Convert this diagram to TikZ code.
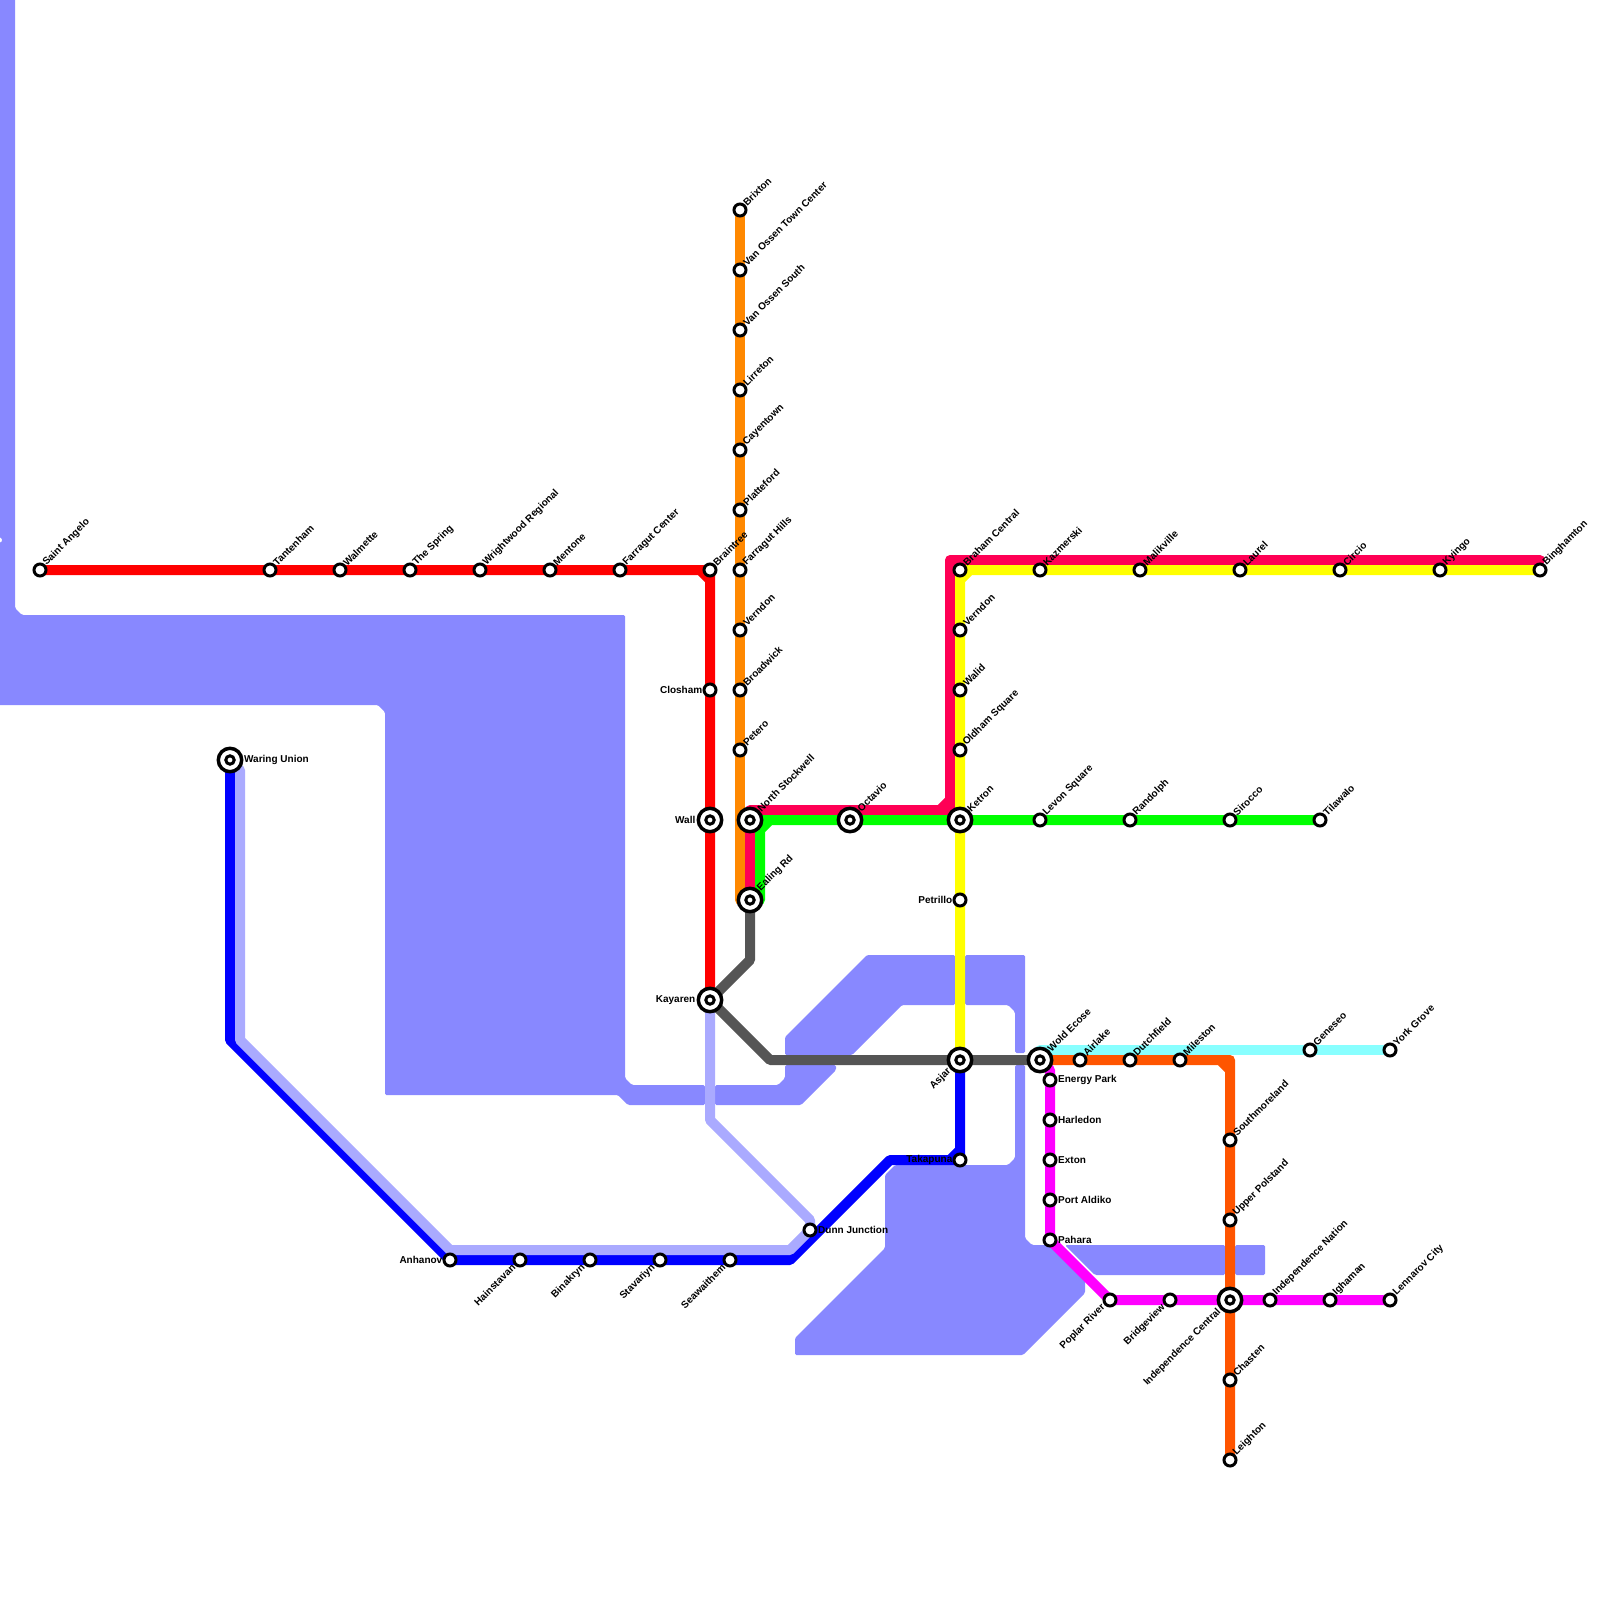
\documentclass[tikz,border=0pt]{standalone}
\usepackage{fontspec}
\setmainfont{Liberation Sans}
\usetikzlibrary{backgrounds}
\definecolor{mapwater}{RGB}{136,136,255}
\definecolor{mapred}{RGB}{255,0,0}
\definecolor{maporange}{RGB}{255,136,0}
\definecolor{maprose}{RGB}{255,0,85}
\definecolor{mapgreen}{RGB}{0,255,0}
\definecolor{mapyellow}{RGB}{255,255,0}
\definecolor{mapgrey}{RGB}{85,85,85}
\definecolor{mapblue}{RGB}{0,0,255}
\definecolor{mappale}{RGB}{170,170,255}
\definecolor{mapcyan}{RGB}{136,255,255}
\definecolor{maprust}{RGB}{255,85,0}
\definecolor{mappink}{RGB}{255,0,255}
\pgfdeclarelayer{waterlayer}
\pgfdeclarelayer{linelayer}
\pgfsetlayers{waterlayer,linelayer,main}
\begin{document}
\begin{tikzpicture}[x=1pt,y=-1pt,
    water/.style={fill=mapwater,rounded corners=1.5pt},
    route/.style={draw=#1,line width=10pt,line cap=round,line join=round},
    stop/.style={circle,draw=black,fill=white,line width=3pt,minimum size=12pt,inner sep=0pt},
    hub/.style={circle,draw=black,fill=white,line width=3.5pt,minimum size=23.4pt,inner sep=0pt,
      path picture={\draw[line width=3pt] (path picture bounding box.center) circle (4.2pt);}},
    stationtext/.style={font=\bfseries\fontsize{10}{12}\selectfont,inner sep=0pt,text=black},
    ne/.style={label={[stationtext,xshift=-0.6pt,yshift=0.6pt,rotate=45,anchor=west,label distance=0pt]45:#1}},
    sw/.style={label={[stationtext,xshift=-1pt,yshift=-0.6pt,rotate=45,anchor=east,label distance=0pt]225:#1}},
    ee/.style={label={[stationtext,anchor=west,label distance=0.5pt]0:#1}},
    ww/.style={label={[stationtext,anchor=east,label distance=0pt]180:#1}},
    hw/.style={label={[stationtext,anchor=east,label distance=1pt]180:#1}}]
  \useasboundingbox (0,0) rectangle (1600,1600);
  % red line
  \node[stop,ne=Saint Angelo] (saintangelo) at (40,570) {};
  \node[stop,ne=Tantenham] (tantenham) at (270,570) {};
  \node[stop,ne=Walmette] (walmette) at (340,570) {};
  \node[stop,ne=The Spring] (thespring) at (410,570) {};
  \node[stop,ne=Wrightwood Regional] (wrightwood) at (480,570) {};
  \node[stop,ne=Mentone] (mentone) at (550,570) {};
  \node[stop,ne=Farragut Center] (farragutcenter) at (620,570) {};
  \node[stop,ne=Braintree] (braintree) at (710,570) {};
  \node[stop,ww=Closham] (closham) at (710,690) {};
  \node[hub,hw=Wall] (wall) at (710,820) {};
  \node[hub,hw=Kayaren] (kayaren) at (710,1000) {};
  % orange line
  \node[stop,ne=Brixton] (brixton) at (740,210) {};
  \node[stop,ne=Van Ossen Town Center] (vanossentown) at (740,270) {};
  \node[stop,ne=Van Ossen South] (vanossensouth) at (740,330) {};
  \node[stop,ne=Lirreton] (lirreton) at (740,390) {};
  \node[stop,ne=Cayentown] (cayentown) at (740,450) {};
  \node[stop,ne=Platteford] (platteford) at (740,510) {};
  \node[stop,ne=Farragut Hills] (farraguthills) at (740,570) {};
  \node[stop,ne=Verndon] (verndonw) at (740,630) {};
  \node[stop,ne=Broadwick] (broadwick) at (740,690) {};
  \node[stop,ne=Petero] (petero) at (740,750) {};
  \node[hub,ne=North Stockwell] (northstockwell) at (750,820) {};
  \node[hub,ne=Ealing Rd] (ealing) at (750,900) {};
  % green and yellow lines
  \node[hub,ne=Octavio] (octavio) at (850,820) {};
  \node[hub,ne=Ketron] (ketron) at (960,820) {};
  \node[stop,ne=Levon Square] (levon) at (1040,820) {};
  \node[stop,ne=Randolph] (randolph) at (1130,820) {};
  \node[stop,ne=Sirocco] (sirocco) at (1230,820) {};
  \node[stop,ne=Tilawalo] (tilawalo) at (1320,820) {};
  \node[stop,ne=Braham Central] (braham) at (960,570) {};
  \node[stop,ne=Kazmerski] (kazmerski) at (1040,570) {};
  \node[stop,ne=Malikville] (malikville) at (1140,570) {};
  \node[stop,ne=Laurel] (laurel) at (1240,570) {};
  \node[stop,ne=Circio] (circio) at (1340,570) {};
  \node[stop,ne=Kyingo] (kyingo) at (1440,570) {};
  \node[stop,ne=Binghamton] (binghamton) at (1540,570) {};
  \node[stop,ne=Verndon] (verndone) at (960,630) {};
  \node[stop,ne=Walid] (walid) at (960,690) {};
  \node[stop,ne=Oldham Square] (oldham) at (960,750) {};
  \node[stop,ww=Petrillo] (petrillo) at (960,900) {};
  \node[hub,sw=Asjar] (asjar) at (960,1060) {};
  % blue line
  \node[hub,ee=Waring Union] (waring) at (230,760) {};
  \node[stop,ww=Anhanov] (anhanov) at (450,1260) {};
  \node[stop,sw=Hainstavan] (hainstavan) at (520,1260) {};
  \node[stop,sw=Binakryn] (binakryn) at (590,1260) {};
  \node[stop,sw=Stavariyn] (stavariyn) at (660,1260) {};
  \node[stop,sw=Seawaithem] (seawaithem) at (730,1260) {};
  \node[stop,ee=Dunn Junction] (dunn) at (810,1230) {};
  \node[stop,ww=Takapuna] (takapuna) at (960,1160) {};
  % east side
  \node[hub,ne=Wold Ecose] (wold) at (1040,1060) {};
  \node[stop,ne=Airlake] (airlake) at (1080,1060) {};
  \node[stop,ne=Dutchfield] (dutchfield) at (1130,1060) {};
  \node[stop,ne=Mileston] (mileston) at (1180,1060) {};
  \node[stop,ne=Geneseo] (geneseo) at (1310,1050) {};
  \node[stop,ne=York Grove] (yorkgrove) at (1390,1050) {};
  \node[stop,ne=Southmoreland] (southmoreland) at (1230,1140) {};
  \node[stop,ne=Upper Polstand] (upperpolstand) at (1230,1220) {};
  \node[hub,sw=Independence Central] (indcentral) at (1230,1300) {};
  \node[stop,ne=Chasten] (chasten) at (1230,1380) {};
  \node[stop,ne=Leighton] (leighton) at (1230,1460) {};
  \node[stop,ee=Energy Park] (energypark) at (1050,1080) {};
  \node[stop,ee=Harledon] (harledon) at (1050,1120) {};
  \node[stop,ee=Exton] (exton) at (1050,1160) {};
  \node[stop,ee=Port Aldiko] (portaldiko) at (1050,1200) {};
  \node[stop,ee=Pahara] (pahara) at (1050,1240) {};
  \node[stop,sw=Poplar River] (poplar) at (1110,1300) {};
  \node[stop,sw=Bridgeview] (bridgeview) at (1170,1300) {};
  \node[stop,ne=Independence Nation] (indnation) at (1270,1300) {};
  \node[stop,ne=Ighaman] (ighaman) at (1330,1300) {};
  \node[stop,ne=Lennarov City] (lennarov) at (1390,1300) {};
  % bends away from the stations
  \coordinate (orangeend) at (740,900);
  \coordinate (rosestart) at (750,810);
  \coordinate (rosedrop) at (950,810);
  \coordinate (rosetop) at (950,560);
  \coordinate (roseend) at (1540,560);
  \coordinate (greenbend) at (760,820);
  \coordinate (greenend) at (760,900);
  \coordinate (greyupper) at (750,960);
  \coordinate (greylower) at (770,1060);
  \coordinate (bluebend) at (230,1040);
  \coordinate (bluelow) at (790,1260);
  \coordinate (bluehigh) at (890,1160);
  \coordinate (palestart) at (240,770);
  \coordinate (palebend) at (240,1040);
  \coordinate (palelow) at (450,1250);
  \coordinate (palerun) at (790,1250);
  \coordinate (palefoot) at (810,1220);
  \coordinate (paledrop) at (710,1120);
  \coordinate (rustbend) at (1230,1060);
  \coordinate (cyanstart) at (1040,1050);
  \coordinate (pinkbend) at (1050,1070);
  \begin{pgfonlayer}{waterlayer}
    \fill[water] (0,-5) -- (15,-5) -- (15,608) -- (22,615) -- (625,615) -- (625,1078) -- (632,1085) -- (705,1085) -- (705,1105)
      -- (628,1105) -- (618,1095) -- (385,1095) -- (385,712) -- (378,705) -- (-5,705) -- (-5,545) -- (0,543) -- (3,540) -- (0,537) -- (-5,535) -- cycle;
    \fill[water] (867,955) -- (955,955) -- (955,1005) -- (902,1005) -- (852,1055) -- (785,1055) -- (785,1037) -- cycle;
    \fill[water] (965,955) -- (1025,955) -- (1025,1053) -- (1015,1053) -- (1015,1012) -- (1008,1005) -- (965,1005) -- cycle;
    \fill[water] (785,1065) -- (836,1065) -- (836,1070) -- (801,1105) -- (715,1105) -- (715,1085) -- (778,1085) -- (785,1078) -- cycle;
    \fill[water] (895,1165) -- (1008,1165) -- (1015,1158) -- (1015,1065) -- (1025,1065) -- (1025,1238) -- (1032,1245) -- (1050,1245)
      -- (1085,1280) -- (1085,1293) -- (1023,1355) -- (795,1355) -- (795,1338) -- (885,1248) -- (885,1175) -- cycle;
    \fill[water] (1065,1245) -- (1225,1245) -- (1225,1275) -- (1095,1275) -- cycle;
    \fill[water] (1235,1245) -- (1265,1245) -- (1265,1275) -- (1235,1275) -- cycle;
  \end{pgfonlayer}
  \begin{pgfonlayer}{linelayer}
    \draw[route=mapblue] (waring.center) -- (bluebend) -- (anhanov.center) -- (hainstavan.center) -- (binakryn.center) -- (stavariyn.center)
      -- (seawaithem.center) -- (bluelow) -- (bluehigh) -- (takapuna.center) -- (asjar.center) (950,1160) -- (960,1150);
    \draw[route=mappale] (kayaren.center) -- (paledrop) -- (palefoot) -- (dunn.center) -- (palerun) -- (palelow) -- (palebend) -- (palestart);
    \draw[route=mapred] (saintangelo.center) -- (tantenham.center) -- (walmette.center) -- (thespring.center) -- (wrightwood.center)
      -- (mentone.center) -- (farragutcenter.center) -- (braintree.center) -- (closham.center) -- (wall.center) -- (kayaren.center) (700,570) -- (710,580);
    \draw[route=maporange] (brixton.center) -- (vanossentown.center) -- (vanossensouth.center) -- (lirreton.center) -- (cayentown.center)
      -- (platteford.center) -- (farraguthills.center) -- (verndonw.center) -- (broadwick.center) -- (petero.center) -- (orangeend);
    \draw[route=maprose] (ealing.center) -- (northstockwell.center) -- (rosestart) -- (rosedrop) -- (rosetop) -- (roseend) (940,810) -- (950,800) (960,560) -- (950,570);
    \draw[route=mapcyan] (cyanstart) -- (geneseo.center) -- (yorkgrove.center);
    \draw[route=mapyellow] (binghamton.center) -- (kyingo.center) -- (circio.center) -- (laurel.center) -- (malikville.center) -- (kazmerski.center)
      -- (braham.center) -- (verndone.center) -- (walid.center) -- (oldham.center) -- (ketron.center) -- (petrillo.center) -- (asjar.center) (970,570) -- (960,580);
    \draw[route=mapgreen] (tilawalo.center) -- (sirocco.center) -- (randolph.center) -- (levon.center) -- (ketron.center) -- (octavio.center)
      -- (greenbend) -- (greenend) (770,820) -- (760,830);
    \draw[route=maprust] (wold.center) -- (airlake.center) -- (dutchfield.center) -- (mileston.center) -- (rustbend) -- (southmoreland.center)
      -- (upperpolstand.center) -- (indcentral.center) -- (chasten.center) -- (leighton.center) (1220,1060) -- (1230,1070);
    \draw[route=mappink] (wold.center) -- (pinkbend) -- (energypark.center) -- (harledon.center) -- (exton.center) -- (portaldiko.center) -- (pahara.center)
      -- (poplar.center) -- (bridgeview.center) -- (indcentral.center) -- (indnation.center) -- (ighaman.center) -- (lennarov.center);
    \draw[route=mapgrey] (ealing.center) -- (greyupper) -- (kayaren.center) -- (greylower) -- (asjar.center) -- (wold.center);
  \end{pgfonlayer}
\end{tikzpicture}
\end{document}
